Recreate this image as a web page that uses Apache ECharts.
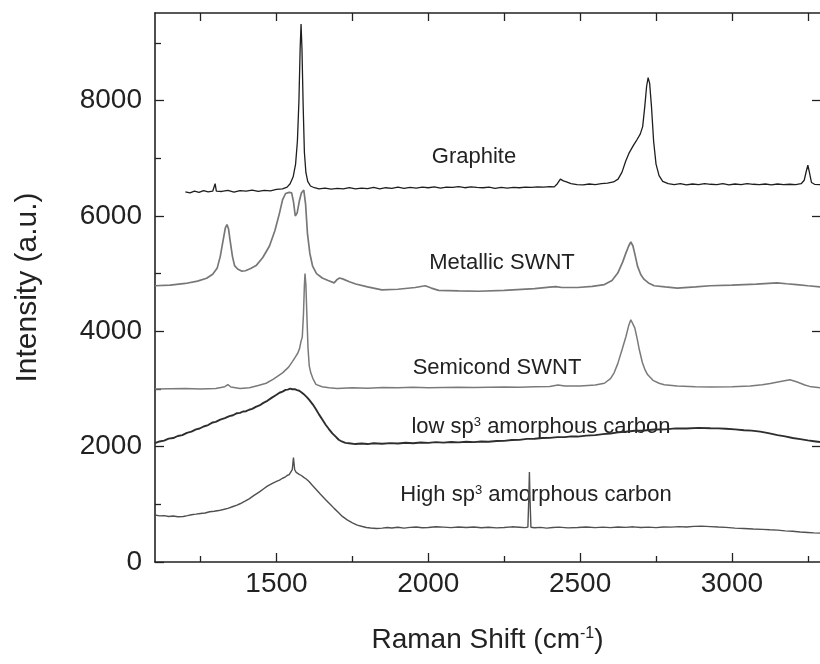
<!DOCTYPE html>
<html>
<head>
<meta charset="utf-8">
<script src="https://cdn.jsdelivr.net/npm/echarts@6/dist/echarts.min.js"></script>
<style>html,body{margin:0;padding:0;background:#fff}#c{width:820px;height:664px}</style>
</head>
<body>
<div id="c"></div>
<script>
// ---- data ----
var xMajor = [1500, 2000, 2500, 3000];
var xMinor = [1250, 1750, 2250, 2750, 3250];
var xAll = [1250, 1500, 1750, 2000, 2250, 2500, 2750, 3000, 3250];
var yMajor = [0, 2000, 4000, 6000, 8000];
var yMinor = [1000, 3000, 5000, 7000, 9000];
var seriesNames = ["Graphite", "Metallic SWNT", "Semicond SWNT", "low sp3 amorphous carbon", "High sp3 amorphous carbon"];

var graphite = [[1200,6420],[1215,6400],[1230,6430],[1245,6410],[1260,6440],[1275,6420],[1290,6430],[1298,6560],[1302,6430],[1320,6425],[1340,6445],[1360,6415],[1380,6440],[1400,6430],[1420,6450],[1440,6425],[1460,6445],[1480,6435],[1500,6460],[1520,6470],[1535,6500],[1545,6560],[1555,6680],[1563,6900],[1569,7300],[1574,8000],[1578,8900],[1581,9330],[1584,8900],[1588,7900],[1592,7100],[1597,6750],[1603,6600],[1612,6520],[1625,6490],[1640,6470],[1660,6485],[1680,6465],[1700,6480],[1720,6470],[1740,6490],[1760,6470],[1780,6485],[1800,6475],[1820,6495],[1840,6470],[1860,6490],[1880,6480],[1900,6500],[1920,6480],[1940,6495],[1960,6485],[1980,6500],[2000,6490],[2020,6505],[2040,6485],[2060,6500],[2080,6495],[2100,6510],[2120,6490],[2140,6505],[2160,6495],[2180,6490],[2200,6500],[2220,6480],[2240,6495],[2260,6485],[2280,6495],[2300,6490],[2320,6500],[2340,6495],[2360,6505],[2380,6500],[2400,6510],[2415,6505],[2425,6560],[2435,6640],[2445,6610],[2455,6590],[2470,6560],[2490,6545],[2510,6540],[2530,6555],[2550,6545],[2570,6560],[2590,6570],[2610,6590],[2625,6640],[2638,6760],[2650,6950],[2662,7100],[2675,7220],[2688,7330],[2698,7420],[2706,7550],[2713,7900],[2719,8250],[2724,8400],[2729,8300],[2735,7900],[2742,7300],[2750,6900],[2760,6700],[2772,6600],[2790,6560],[2810,6545],[2830,6560],[2850,6540],[2870,6555],[2890,6545],[2910,6560],[2930,6550],[2950,6545],[2970,6560],[2990,6540],[3010,6555],[3030,6545],[3050,6560],[3070,6550],[3090,6545],[3110,6555],[3130,6540],[3150,6555],[3170,6545],[3190,6550],[3210,6545],[3228,6560],[3238,6620],[3245,6780],[3250,6880],[3255,6760],[3262,6580],[3272,6550],[3290,6545]];

var metallic = [[1100,4790],[1150,4800],[1200,4830],[1240,4870],[1270,4920],[1290,4990],[1305,5100],[1315,5300],[1325,5600],[1332,5800],[1337,5850],[1342,5780],[1348,5550],[1355,5300],[1362,5140],[1372,5080],[1385,5045],[1398,5050],[1415,5090],[1433,5140],[1455,5280],[1477,5480],[1495,5750],[1510,6050],[1520,6280],[1530,6390],[1542,6410],[1550,6400],[1556,6250],[1562,6000],[1568,6050],[1575,6250],[1582,6400],[1590,6450],[1596,6200],[1602,5700],[1610,5350],[1619,5130],[1632,5000],[1651,4925],[1670,4880],[1690,4840],[1700,4900],[1708,4925],[1720,4905],[1740,4860],[1761,4820],[1800,4770],[1847,4720],[1900,4730],[1957,4760],[1990,4790],[2010,4750],[2034,4710],[2100,4700],[2165,4695],[2250,4710],[2350,4740],[2400,4765],[2420,4775],[2440,4760],[2492,4760],[2540,4780],[2580,4810],[2605,4880],[2624,5010],[2640,5200],[2651,5360],[2660,5480],[2667,5550],[2674,5480],[2682,5300],[2689,5130],[2700,4980],[2711,4900],[2725,4840],[2744,4790],[2780,4770],[2820,4750],[2880,4770],[2928,4790],[3000,4800],[3080,4820],[3148,4840],[3180,4825],[3213,4810],[3250,4790],[3290,4770]];

var semicond = [[1100,3000],[1150,3005],[1200,3010],[1250,3000],[1300,3010],[1330,3040],[1340,3075],[1350,3035],[1380,3010],[1411,3020],[1440,3060],[1466,3100],[1490,3170],[1520,3280],[1540,3380],[1553,3480],[1563,3560],[1570,3620],[1576,3700],[1581,3830],[1585,3900],[1589,4300],[1592,4800],[1594,5000],[1597,4800],[1600,4300],[1604,3700],[1608,3400],[1613,3280],[1620,3180],[1630,3080],[1650,3040],[1673,3020],[1700,3010],[1750,3020],[1800,3015],[1850,3025],[1900,3020],[1950,3030],[2000,3020],[2050,3025],[2100,3030],[2150,3025],[2200,3030],[2250,3035],[2300,3030],[2350,3040],[2400,3045],[2427,3070],[2450,3050],[2500,3050],[2550,3070],[2580,3100],[2600,3180],[2612,3280],[2624,3440],[2638,3680],[2651,3910],[2660,4100],[2667,4200],[2672,4210],[2680,4060],[2688,3870],[2695,3680],[2705,3460],[2714,3330],[2722,3250],[2740,3150],[2760,3100],[2777,3075],[2820,3050],[2880,3040],[2929,3035],[3000,3040],[3060,3050],[3100,3075],[3126,3095],[3160,3130],[3191,3160],[3215,3120],[3240,3070],[3256,3045],[3290,3020]];

var lowSp3 = [[1100,2060],[1115,2090],[1130,2105],[1145,2140],[1160,2150],[1175,2185],[1190,2200],[1205,2240],[1220,2260],[1235,2300],[1247,2315],[1260,2350],[1275,2375],[1290,2420],[1300,2430],[1315,2470],[1330,2495],[1345,2530],[1357,2545],[1370,2580],[1380,2585],[1390,2610],[1400,2615],[1410,2640],[1420,2655],[1432,2690],[1444,2715],[1457,2760],[1470,2795],[1485,2850],[1499,2895],[1510,2935],[1520,2955],[1530,2985],[1537,2990],[1545,3005],[1552,2995],[1560,2998],[1568,2980],[1575,2970],[1583,2940],[1590,2910],[1600,2860],[1608,2810],[1620,2730],[1630,2650],[1640,2560],[1651,2470],[1662,2380],[1672,2310],[1684,2230],[1695,2175],[1705,2120],[1715,2090],[1727,2065],[1739,2060],[1760,2045],[1780,2055],[1800,2045],[1820,2060],[1848,2050],[1875,2062],[1900,2055],[1925,2068],[1950,2060],[1975,2072],[2000,2065],[2025,2078],[2050,2070],[2075,2082],[2100,2075],[2125,2085],[2150,2078],[2175,2090],[2198,2085],[2225,2098],[2250,2100],[2275,2115],[2300,2118],[2325,2135],[2350,2138],[2375,2150],[2400,2152],[2425,2165],[2450,2165],[2470,2178],[2492,2175],[2520,2192],[2550,2200],[2575,2218],[2600,2228],[2625,2248],[2650,2258],[2680,2275],[2711,2280],[2745,2298],[2780,2300],[2815,2318],[2850,2315],[2890,2325],[2929,2320],[2955,2318],[2980,2310],[3010,2300],[3040,2285],[3065,2278],[3093,2260],[3120,2235],[3150,2200],[3175,2178],[3200,2150],[3225,2130],[3250,2110],[3270,2095],[3290,2080]];

var highSp3 = [[1100,815],[1115,800],[1130,805],[1145,790],[1160,798],[1175,785],[1193,790],[1207,805],[1220,820],[1235,830],[1250,842],[1265,850],[1280,872],[1295,880],[1310,892],[1325,910],[1340,930],[1357,962],[1370,985],[1380,1010],[1395,1050],[1410,1095],[1425,1150],[1444,1215],[1458,1270],[1470,1315],[1485,1360],[1500,1398],[1510,1420],[1520,1452],[1528,1470],[1535,1500],[1542,1515],[1548,1540],[1552,1600],[1556,1810],[1560,1600],[1565,1555],[1570,1540],[1575,1520],[1582,1500],[1590,1468],[1598,1440],[1608,1392],[1618,1330],[1630,1262],[1645,1175],[1662,1080],[1676,1005],[1690,930],[1704,860],[1717,790],[1733,730],[1750,680],[1766,640],[1783,615],[1796,598],[1810,590],[1830,582],[1848,588],[1865,598],[1880,590],[1900,602],[1920,588],[1940,600],[1960,606],[1980,594],[2000,598],[2025,612],[2050,604],[2075,596],[2100,608],[2125,598],[2150,606],[2175,594],[2198,602],[2225,592],[2250,598],[2275,610],[2300,602],[2318,596],[2328,604],[2331,1100],[2333,1560],[2335,1100],[2338,602],[2350,594],[2370,600],[2390,588],[2410,598],[2430,604],[2460,592],[2492,598],[2520,606],[2550,596],[2575,604],[2600,596],[2625,608],[2650,600],[2675,610],[2700,598],[2725,604],[2750,596],[2775,608],[2800,604],[2825,614],[2850,608],[2875,618],[2900,622],[2929,614],[2955,606],[2980,600],[3010,588],[3039,580],[3070,572],[3100,566],[3125,558],[3150,552],[3175,540],[3200,532],[3225,520],[3250,512],[3270,505],[3290,500]];

// ---- chart ----
var FONT = "'Liberation Sans', Arial, Helvetica, sans-serif";
var TXT = '#222';
var XMIN = 1100, XMAX = 3290, YMIN = 0, YMAX = 9520;
var chart = echarts.init(document.getElementById('c'), null, {renderer: 'canvas'});
function plain(v) { return String(v); }

function xAx(pos, line, ticks, len, labels, extra) {
  var o = {
    type: 'value', min: XMIN, max: XMAX, position: pos,
    axisLine: {show: line, onZero: false, lineStyle: {color: TXT, width: 1.6}},
    axisTick: {show: true, inside: true, length: len, customValues: ticks, lineStyle: {color: TXT, width: 1.3}},
    axisLabel: labels ? {show: true, customValues: labels, formatter: plain, fontSize: 28, color: TXT, fontFamily: FONT, margin: 8} : {show: false},
    splitLine: {show: false}
  };
  return Object.assign(o, extra || {});
}
function yAx(pos, line, ticks, len, labels, extra) {
  var o = {
    type: 'value', min: YMIN, max: YMAX, position: pos,
    axisLine: {show: line, onZero: false, lineStyle: {color: TXT, width: 1.6}},
    axisTick: {show: true, inside: true, length: len, customValues: ticks, lineStyle: {color: TXT, width: 1.3}},
    axisLabel: labels ? {show: true, customValues: labels, formatter: plain, fontSize: 28, color: TXT, fontFamily: FONT, margin: 13} : {show: false},
    splitLine: {show: false}
  };
  return Object.assign(o, extra || {});
}

var colors = ['#1e1e1e', '#777777', '#7a7a7a', '#2e2e2e', '#505050'];
var widths = [1.3, 1.7, 1.5, 1.9, 1.4];
var datasets = [graphite, metallic, semicond, lowSp3, highSp3];

var series = datasets.map(function (d, i) {
  return {
    name: seriesNames[i], type: 'line', data: d, xAxisIndex: 0, yAxisIndex: 0,
    showSymbol: false, symbol: 'none', smooth: false, clip: true,
    lineStyle: {color: colors[i], width: widths[i]}
  };
});

var supRich = {
  a: {fontSize: 22, fontFamily: FONT, color: TXT, fill: TXT},
  s: {fontSize: 13, fontFamily: FONT, color: TXT, fill: TXT, verticalAlign: 'top', padding: [0, 0, 6, 0]}
};
function label(x, y, txt) {
  return {
    type: 'text', x: x, y: y, silent: true,
    style: {text: txt, rich: supRich, fill: TXT, font: '22px ' + FONT, align: 'center', verticalAlign: 'middle', textAlign: 'center', textVerticalAlign: 'middle'}
  };
}

chart.setOption({
  animation: false,
  backgroundColor: '#fff',
  grid: {left: 155, top: 13, width: 668, height: 549, containLabel: false},
  xAxis: [
    xAx('bottom', true, xMajor, 9, xMajor, {
      name: '{a|Raman Shift (cm}{s|-1}{a|)}', nameLocation: 'middle', nameGap: 64,
      nameTextStyle: {rich: {
        a: {fontSize: 28, fontFamily: FONT, color: TXT},
        s: {fontSize: 16, fontFamily: FONT, color: TXT, verticalAlign: 'top'}
      }}
    }),
    xAx('bottom', false, xMinor, 6, null),
    xAx('top', true, xAll, 8, null)
  ],
  yAxis: [
    yAx('left', true, yMajor, 9, yMajor, {
      name: 'Intensity (a.u.)', nameLocation: 'middle', nameGap: 112,
      nameTextStyle: {fontSize: 30, fontFamily: FONT, color: TXT}
    }),
    yAx('left', false, yMinor, 6, null),
    yAx('right', false, [2000, 4000, 6000, 8000], 8, null)
  ],
  series: series,
  graphic: [
    label(474, 157, '{a|Graphite}'),
    label(502, 263, '{a|Metallic SWNT}'),
    label(497, 368, '{a|Semicond SWNT}'),
    label(541, 427, '{a|low sp}{s|3}{a| amorphous carbon}'),
    label(536, 495, '{a|High sp}{s|3}{a| amorphous carbon}')
  ]
});
</script>
</body>
</html>
